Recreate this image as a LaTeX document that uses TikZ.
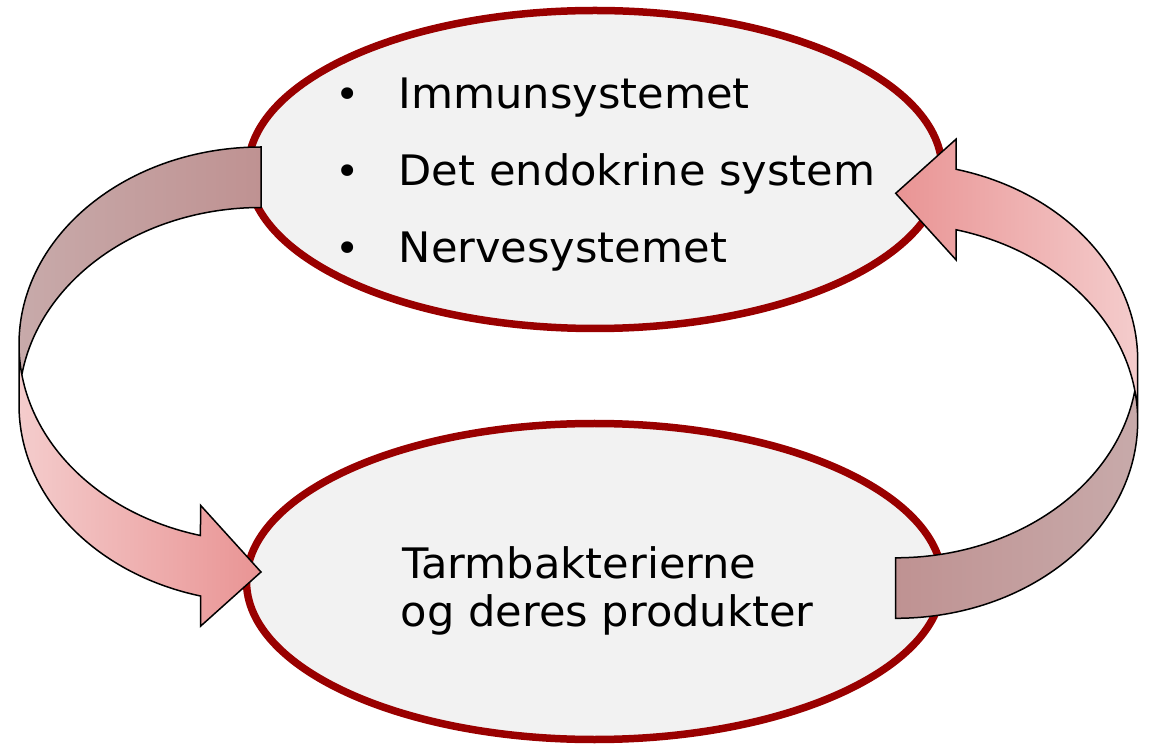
\documentclass[tikz,border=0pt]{standalone}
\usepackage{fontspec}
\setmainfont{DejaVu Sans}[FakeStretch=1.028]
\usetikzlibrary{shapes.geometric}
\definecolor{ringred}{HTML}{990000}
\definecolor{ovalfill}{HTML}{F2F2F2}
\definecolor{frontlight}{HTML}{F4CCCC}
\definecolor{frontdark}{HTML}{E99494}
\definecolor{backlight}{HTML}{C8ABAB}
\definecolor{backdark}{HTML}{BF9292}
\begin{document}
\begin{tikzpicture}[x=1pt,y=1pt,
  oval/.style={ellipse, draw=ringred, line width=7.5pt, fill=ovalfill, inner sep=0pt},
  itemtext/.style={anchor=base west, inner sep=0pt, font=\fontsize{42}{50}\selectfont},
  bulletmark/.style={anchor=base, inner sep=0pt, font=\fontsize{40}{50}\selectfont},
  rim/.style={draw=black, line width=1.5pt, line join=miter},
  ell/.style={x radius=242, y radius=197.4}]
\fill[white] (0,0) rectangle (1154,745);
\useasboundingbox (0,0) rectangle (1154,745);

% the two ovals
\node[oval, minimum width=694, minimum height=318] (sys) at (595,575.5) {};
\node[oval, minimum width=696, minimum height=316] (gut) at (594.5,163.5) {};

% list in the upper oval
\node[bulletmark] (b1) at (348,636) {•};
\node[bulletmark] (b2) at (348,559) {•};
\node[bulletmark] (b3) at (348,482) {•};
\node[itemtext] (t1) at (398.5,636) {Immunsystemet};
\node[itemtext] (t2) at (398.5,559) {Det endokrine system};
\node[itemtext] (t3) at (398.5,482) {Nervesystemet};

% text in the lower oval
\node[itemtext] (g1) at (402,166.7) {Tarmbakterierne};
\node[itemtext] (g2) at (400.5,118.5) {og deres produkter};

% left curved arrow: front band, back band, outline
\shade[left color=frontlight, right color=frontdark]
  (19,400.6) arc[ell, start angle=180, end angle=255.52]
  -- (200.5,239.75) -- (261,173) -- (200.5,118.75) -- (200.5,149)
  arc[ell, start angle=255.52, end angle=180] -- cycle;
\shade[left color=backlight, right color=backdark]
  (261,537.5) arc[ell, start angle=90, end angle=171.19]
  arc[ell, start angle=188.81, end angle=90] -- cycle;
\draw[rim]
  (19,400.6) arc[ell, start angle=180, end angle=255.52]
  -- (200.5,239.75) -- (261,173) -- (200.5,118.75) -- (200.5,149)
  arc[ell, start angle=255.52, end angle=180] -- (19,400.6)
  arc[ell, start angle=180, end angle=90] -- (261,537.5)
  arc[ell, start angle=90, end angle=171.19];

% right curved arrow: front band, back band, outline
\shade[left color=frontdark, right color=frontlight]
  (1137.7,324.1) arc[ell, start angle=0, end angle=75.52]
  -- (956.2,484.95) -- (895.7,551.7) -- (956.2,605.95) -- (956.2,575.7)
  arc[ell, start angle=75.52, end angle=0] -- cycle;
\shade[left color=backdark, right color=backlight]
  (895.7,187.2) arc[ell, start angle=270, end angle=351.19]
  arc[ell, start angle=8.81, end angle=-90] -- cycle;
\draw[rim]
  (1137.7,324.1) arc[ell, start angle=0, end angle=75.52]
  -- (956.2,484.95) -- (895.7,551.7) -- (956.2,605.95) -- (956.2,575.7)
  arc[ell, start angle=75.52, end angle=0] -- (1137.7,324.1)
  arc[ell, start angle=0, end angle=-90] -- (895.7,187.2)
  arc[ell, start angle=270, end angle=351.19];
\end{tikzpicture}
\end{document}
